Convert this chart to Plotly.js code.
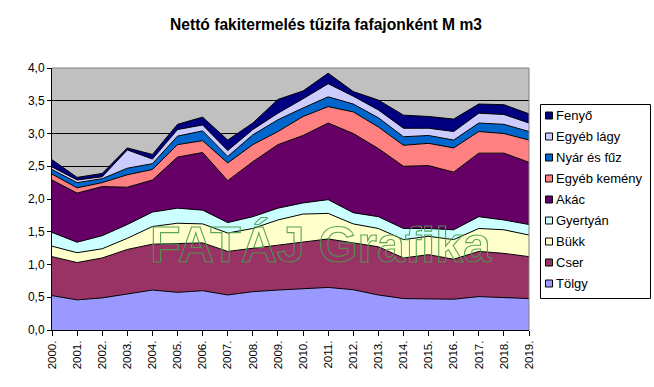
<!DOCTYPE html>
<html><head><meta charset="utf-8">
<script src="https://cdn.plot.ly/plotly-3.0.1.min.js"></script>
<style>body{margin:0;padding:0;background:#fff}#chart{width:654px;height:387px}</style>
</head><body><div id="chart"></div>
<script>
var years = ["2000.","2001.","2002.","2003.","2004.","2005.","2006.","2007.","2008.","2009.","2010.","2011.","2012.","2013.","2014.","2015.","2016.","2017.","2018.","2019."];
var tolgy   = [0.525,0.46,0.49,0.545,0.61,0.575,0.60,0.535,0.585,0.61,0.63,0.65,0.615,0.535,0.48,0.48,0.47,0.51,0.50,0.48];
var cser    = [0.595,0.57,0.61,0.685,0.70,0.745,0.73,0.665,0.665,0.68,0.72,0.74,0.715,0.735,0.62,0.67,0.61,0.69,0.67,0.64];
var bukk    = [0.16,0.15,0.14,0.17,0.27,0.31,0.29,0.28,0.30,0.39,0.42,0.39,0.29,0.28,0.28,0.28,0.30,0.35,0.36,0.33];
var gyertyan= [0.21,0.16,0.20,0.21,0.22,0.23,0.21,0.16,0.18,0.18,0.17,0.21,0.17,0.18,0.17,0.12,0.15,0.18,0.15,0.16];
var akac    = [0.80,0.75,0.75,0.57,0.49,0.78,0.88,0.64,0.84,0.97,1.03,1.17,1.21,1.04,0.95,0.96,0.88,0.97,1.02,0.95];
var egyebKemeny = [0.09,0.08,0.06,0.19,0.16,0.19,0.18,0.27,0.26,0.20,0.29,0.25,0.33,0.33,0.32,0.34,0.37,0.33,0.30,0.34];
var nyarFuz = [0.07,0.08,0.06,0.10,0.09,0.13,0.15,0.10,0.15,0.18,0.13,0.15,0.12,0.14,0.13,0.12,0.12,0.13,0.14,0.13];
var egyebLagy = [0.04,0.04,0.03,0.28,0.07,0.10,0.09,0.09,0.08,0.10,0.14,0.20,0.12,0.12,0.13,0.11,0.13,0.15,0.15,0.13];
var fenyo   = [0.11,0.04,0.05,0.03,0.07,0.08,0.12,0.16,0.10,0.21,0.12,0.16,0.07,0.15,0.20,0.18,0.19,0.14,0.15,0.14];

var seriesNames = ["Tölgy","Cser","Bükk","Gyertyán","Akác","Egyéb kemény","Nyár és fűz","Egyéb lágy","Fenyő"];
var seriesData = [tolgy,cser,bukk,gyertyan,akac,egyebKemeny,nyarFuz,egyebLagy,fenyo];
var seriesColors = ["#9999FF","#993366","#FFFFCC","#CCFFFF","#660066","#FF8080","#0066CC","#CCCCFF","#000080"];

var W = 654, H = 387, ML = 52, MR = 125, MT = 68, MB = 57;
var PW = W - ML - MR, PH = H - MT - MB;
function px(x){ return (x - ML) / PW; }
function py(y){ return (H - MB - y) / PH; }

var FONT = "Liberation Sans, Arial, sans-serif";
var traces = seriesNames.map(function(n,i){
  return {type:"scatter", mode:"lines", x:years, y:seriesData[i], name:n,
    stackgroup:"one", showlegend:false,
    line:{color:"#000000", width:1, shape:"linear"},
    fillcolor:seriesColors[i], hoverinfo:"skip"};
});

var shapes = [
  {type:"line", xref:"paper", yref:"paper", x0:1, x1:1, y0:0, y1:1, line:{color:"#808080", width:1}},
  {type:"line", xref:"paper", yref:"paper", x0:0, x1:1, y0:1, y1:1, line:{color:"#808080", width:1}},
  {type:"rect", xref:"paper", yref:"paper", x0:px(540.5), x1:px(650.5), y0:py(298.5), y1:py(104.5),
    line:{color:"#000", width:1}, fillcolor:"#FFF", layer:"above"}
];
var annotations = [];
// legend entries, top to bottom: reverse series order
for (var k = 0; k < seriesNames.length; k++) {
  var i = seriesNames.length - 1 - k;
  var cy = 115.5 + 21 * k;
  shapes.push({type:"rect", xref:"paper", yref:"paper", x0:px(545.5), x1:px(552.5), y0:py(cy+3.5), y1:py(cy-3.5),
    line:{color:"#000", width:1}, fillcolor:seriesColors[i], layer:"above"});
  annotations.push({text:seriesNames[i], xref:"paper", yref:"paper", x:px(554), y:py(cy), showarrow:false,
    xanchor:"left", yanchor:"middle", font:{family:FONT, size:13, color:"#000"}});
}
annotations.push({text:"FATÁJ Grafika", xref:"paper", yref:"paper", x:px(321), y:py(245), showarrow:false,
    xanchor:"center", yanchor:"middle",
    font:{family:FONT, size:50, weight:"bold", color:"rgba(0,0,0,0)"}});

var layout = {
  width:W, height:H,
  margin:{l:ML, r:MR, t:MT, b:MB},
  paper_bgcolor:"#FFFFFF", plot_bgcolor:"#C0C0C0",
  font:{family:FONT, size:12, color:"#000"},
  separators:", ",
  showlegend:false,
  title:{text:"Nettó fakitermelés tűzifa fafajonként M m3", font:{family:FONT, size:15.6, color:"#000", weight:"bold"},
    x:326/W, xref:"container", y:1-25/H, yref:"container", xanchor:"center", yanchor:"middle"},
  xaxis:{type:"category", range:[0,19], showgrid:false, zeroline:false,
    showline:true, linecolor:"#000", linewidth:1,
    ticks:"outside", ticklen:5, tickcolor:"#000", tickangle:-90,
    tickfont:{family:FONT, size:11.5, color:"#000"}, fixedrange:true},
  yaxis:{range:[0,4], dtick:0.5, tickformat:".1f", showgrid:true, gridcolor:"#000", gridwidth:1,
    zeroline:false, showline:true, linecolor:"#000", linewidth:1,
    ticks:"outside", ticklen:4, tickcolor:"#000",
    tickfont:{family:FONT, size:12, color:"#000"}, fixedrange:true},
  shapes:shapes,
  annotations:annotations
};
Plotly.newPlot("chart", traces, layout, {staticPlot:true, displayModeBar:false}).then(function(gd){
  var texts = gd.querySelectorAll(".annotation-text");
  texts.forEach(function(t){
    if (t.textContent === "FATÁJ Grafika") {
      t.style.fill = "none";
      t.style.stroke = "#4E9A4E";
      t.style.strokeWidth = "1.1px";
      t.style.strokeOpacity = "0.9";
    }
  });
});
</script></body></html>
